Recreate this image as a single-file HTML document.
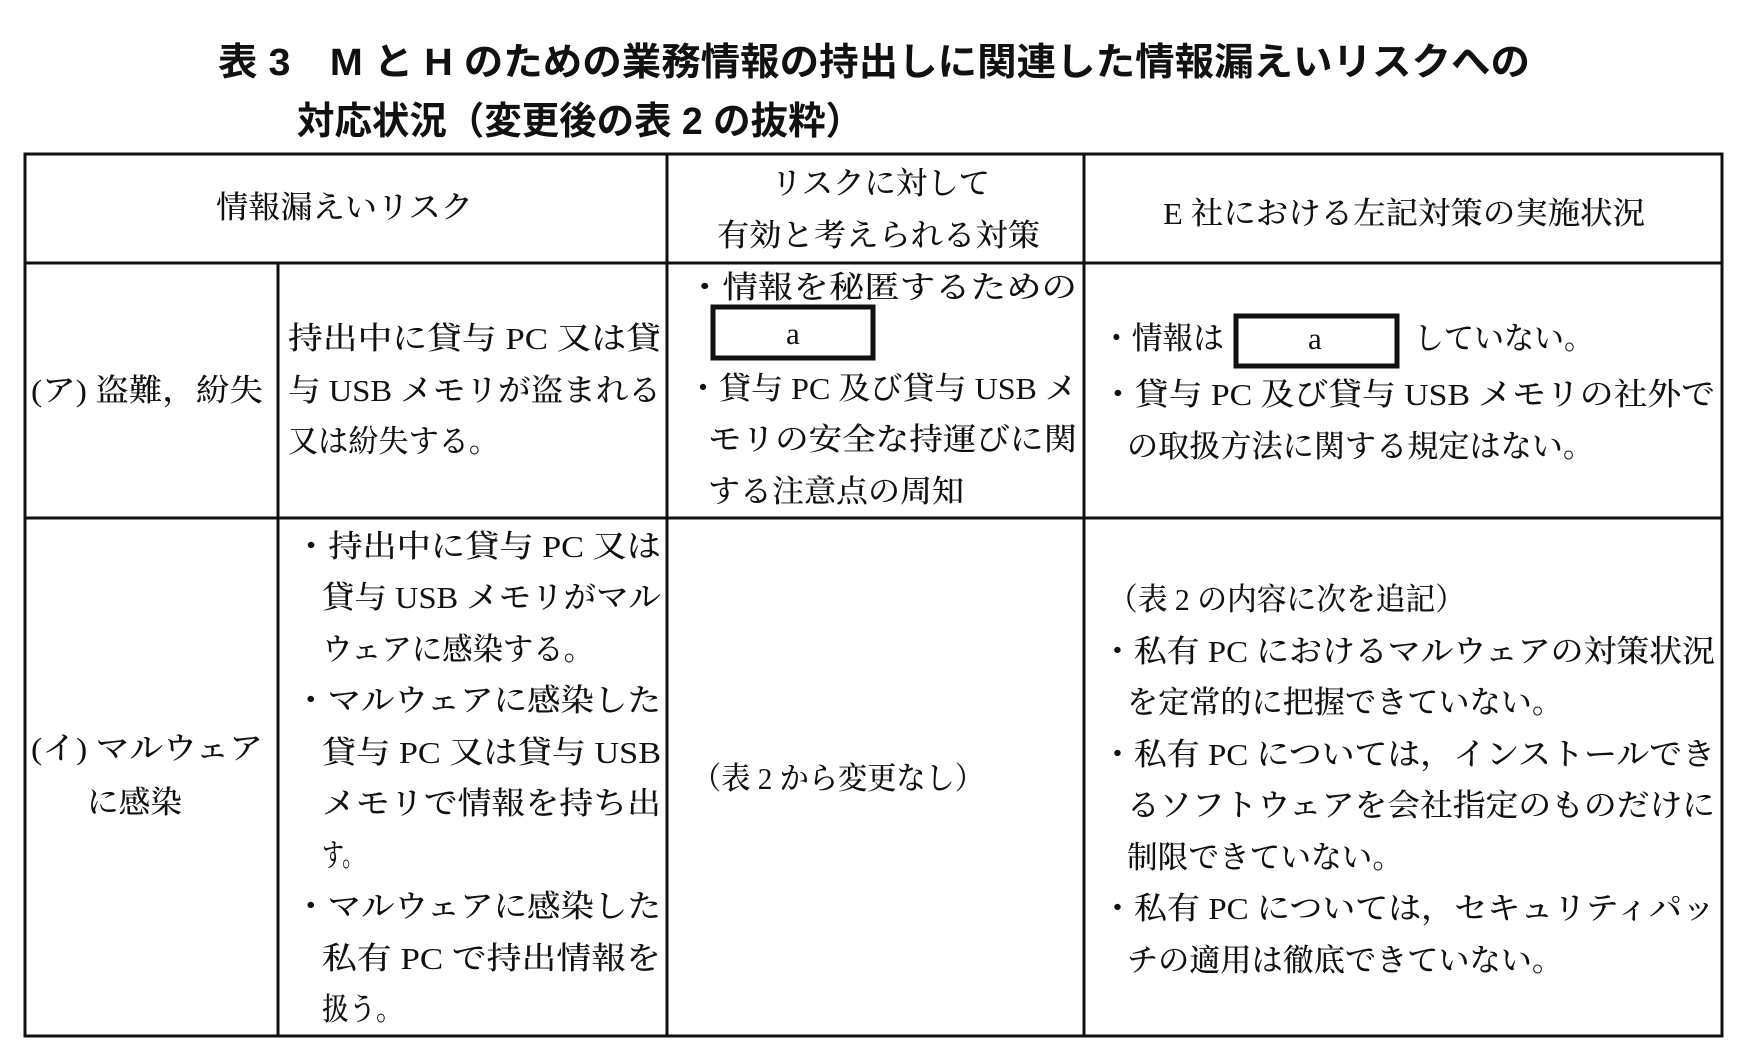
<!DOCTYPE html>
<html><head><meta charset="utf-8"><style>
html,body{margin:0;padding:0;background:#fff;}
svg{display:block}
text{font-family:"Liberation Serif","Noto Serif CJK SC","Noto Sans CJK JP",serif;font-size:31px;fill:#111;font-weight:500}
.t{font-family:"Liberation Sans","Noto Sans CJK JP",sans-serif;font-size:38px;font-weight:700}
</style></head><body>
<svg width="1748" height="1064" viewBox="0 0 1748 1064" xmlns="http://www.w3.org/2000/svg">
<g stroke="#111" stroke-width="3" fill="none">
<rect x="25" y="154" width="1697" height="882"/>
<line x1="25" y1="263" x2="1722" y2="263"/>
<line x1="25" y1="518" x2="1722" y2="518"/>
<line x1="278" y1="263" x2="278" y2="1036"/>
<line x1="667" y1="154" x2="667" y2="1036"/>
<line x1="1084" y1="154" x2="1084" y2="1036"/>
<rect x="713" y="307" width="160" height="51" stroke-width="5"/>
<rect x="1236" y="316" width="161" height="50" stroke-width="5"/>
</g>
<text class="t" x="218" y="75" textLength="1312" lengthAdjust="spacingAndGlyphs">表 3　M と H のための業務情報の持出しに関連した情報漏えいリスクへの</text>
<text class="t" x="297" y="134" textLength="566" lengthAdjust="spacingAndGlyphs">対応状況（変更後の表 2 の抜粋）</text>

<text x="216" y="218" textLength="257" lengthAdjust="spacingAndGlyphs">情報漏えいリスク</text>
<text x="771" y="194" textLength="219" lengthAdjust="spacingAndGlyphs">リスクに対して</text>
<text x="717" y="246" textLength="323" lengthAdjust="spacingAndGlyphs">有効と考えられる対策</text>
<text x="1163" y="224" textLength="482" lengthAdjust="spacingAndGlyphs">E 社における左記対策の実施状況</text>

<text x="31" y="401" textLength="232" lengthAdjust="spacingAndGlyphs">(ア) 盗難，紛失</text>
<text x="288" y="349" textLength="373" lengthAdjust="spacingAndGlyphs">持出中に貸与 PC 又は貸</text>
<text x="288" y="401" textLength="373" lengthAdjust="spacingAndGlyphs">与 USB メモリが盗まれる</text>
<text x="288" y="452" textLength="211" lengthAdjust="spacingAndGlyphs">又は紛失する。</text>

<text x="687" y="298" textLength="390" lengthAdjust="spacingAndGlyphs">・情報を秘匿するための</text>
<text x="786" y="344">a</text>
<text x="687" y="399" textLength="390" lengthAdjust="spacingAndGlyphs">・貸与 PC 及び貸与 USB メ</text>
<text x="708" y="450" textLength="369" lengthAdjust="spacingAndGlyphs">モリの安全な持運びに関</text>
<text x="708" y="502" textLength="256" lengthAdjust="spacingAndGlyphs">する注意点の周知</text>

<text x="1101" y="349" textLength="123" lengthAdjust="spacingAndGlyphs">・情報は</text>
<text x="1308" y="349">a</text>
<text x="1414" y="349" textLength="180" lengthAdjust="spacingAndGlyphs">していない。</text>
<text x="1101" y="405" textLength="614" lengthAdjust="spacingAndGlyphs">・貸与 PC 及び貸与 USB メモリの社外で</text>
<text x="1127" y="457" textLength="467" lengthAdjust="spacingAndGlyphs">の取扱方法に関する規定はない。</text>

<text x="31" y="759" textLength="232" lengthAdjust="spacingAndGlyphs">(イ) マルウェア</text>
<text x="87" y="813" textLength="95" lengthAdjust="spacingAndGlyphs">に感染</text>

<text x="294" y="557" textLength="367" lengthAdjust="spacingAndGlyphs">・持出中に貸与 PC 又は</text>
<text x="322" y="608" textLength="339" lengthAdjust="spacingAndGlyphs">貸与 USB メモリがマル</text>
<text x="322" y="660" textLength="272" lengthAdjust="spacingAndGlyphs">ウェアに感染する。</text>
<text x="294" y="711" textLength="367" lengthAdjust="spacingAndGlyphs">・マルウェアに感染した</text>
<text x="322" y="763" textLength="339" lengthAdjust="spacingAndGlyphs">貸与 PC 又は貸与 USB</text>
<text x="322" y="814" textLength="339" lengthAdjust="spacingAndGlyphs">メモリで情報を持ち出</text>
<text x="322" y="866" textLength="42" lengthAdjust="spacingAndGlyphs">す。</text>
<text x="294" y="917" textLength="367" lengthAdjust="spacingAndGlyphs">・マルウェアに感染した</text>
<text x="322" y="969" textLength="339" lengthAdjust="spacingAndGlyphs">私有 PC で持出情報を</text>
<text x="322" y="1020" textLength="81" lengthAdjust="spacingAndGlyphs">扱う。</text>

<text x="692" y="789" textLength="292" lengthAdjust="spacingAndGlyphs">（表 2 から変更なし）</text>

<text x="1108" y="610" textLength="357" lengthAdjust="spacingAndGlyphs">（表 2 の内容に次を追記）</text>
<text x="1101" y="662" textLength="614" lengthAdjust="spacingAndGlyphs">・私有 PC におけるマルウェアの対策状況</text>
<text x="1127" y="713" textLength="436" lengthAdjust="spacingAndGlyphs">を定常的に把握できていない。</text>
<text x="1101" y="765" textLength="614" lengthAdjust="spacingAndGlyphs">・私有 PC については，インストールでき</text>
<text x="1127" y="816" textLength="588" lengthAdjust="spacingAndGlyphs">るソフトウェアを会社指定のものだけに</text>
<text x="1127" y="868" textLength="276" lengthAdjust="spacingAndGlyphs">制限できていない。</text>
<text x="1101" y="919" textLength="614" lengthAdjust="spacingAndGlyphs">・私有 PC については，セキュリティパッ</text>
<text x="1127" y="971" textLength="436" lengthAdjust="spacingAndGlyphs">チの適用は徹底できていない。</text>
</svg>
</body></html>
